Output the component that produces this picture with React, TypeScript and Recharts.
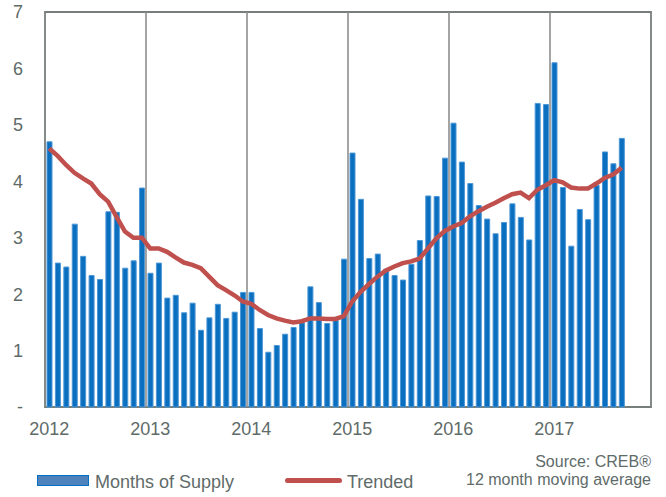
import React from 'react';
import {
  ComposedChart,
  Bar,
  Line,
  XAxis,
  YAxis,
  ReferenceLine,
  ReferenceArea,
} from 'recharts';

// Monthly values, Jan 2012 .. Sep 2017
const yearLabels = ['2012', '2013', '2014', '2015', '2016', '2017'];

const monthsOfSupply = [
  4.70, 2.55, 2.48, 3.24, 2.67, 2.33, 2.26, 3.46, 3.45, 2.46, 2.59, 3.88,
  2.37, 2.55, 1.93, 1.98, 1.67, 1.84, 1.36, 1.58, 1.82, 1.57, 1.68, 2.03,
  2.03, 1.39, 0.97, 1.09, 1.29, 1.41, 1.49, 2.13, 1.85, 1.48, 1.54, 2.62,
  4.50, 3.68, 2.63, 2.71, 2.44, 2.33, 2.25, 2.53, 2.95, 3.74, 3.73, 4.41,
  5.03, 4.34, 3.96, 3.57, 3.33, 3.07, 3.27, 3.60, 3.36, 2.96, 5.38, 5.36,
  6.10, 3.89, 2.85, 3.50, 3.32, 3.93, 4.52, 4.31, 4.76,
];

const trended = [
  4.58, 4.45, 4.29, 4.15, 4.05, 3.96, 3.77, 3.64, 3.37, 3.11, 3.00, 3.00,
  2.81, 2.81, 2.75, 2.65, 2.56, 2.52, 2.46, 2.31, 2.16, 2.07, 1.98, 1.87,
  1.83, 1.72, 1.63, 1.57, 1.53, 1.50, 1.52, 1.57, 1.57, 1.56, 1.56, 1.61,
  1.87, 2.04, 2.18, 2.31, 2.42, 2.49, 2.55, 2.58, 2.63, 2.81, 2.99, 3.12,
  3.20, 3.26, 3.38, 3.47, 3.55, 3.62, 3.70, 3.77, 3.80, 3.70, 3.85, 3.93,
  4.02, 3.98, 3.89, 3.87, 3.87, 3.96, 4.06, 4.12, 4.24,
];

const yTicks = [0, 1, 2, 3, 4, 5, 6, 7];

const data = monthsOfSupply.map((v, i) => ({
  x: i + 0.5,
  supply: v,
  trend: trended[i],
}));

const yearTicks = yearLabels.map((_, i) => i * 12 + 0.5);
const yearLines = yearLabels.slice(1).map((_, i) => (i + 1) * 12);

const textColor = '#606b69';
const font = '"Liberation Sans", Arial, sans-serif';

export default function App() {
  return (
    <div
      style={{
        position: 'absolute',
        left: 0,
        top: 0,
        width: 666,
        height: 497,
        background: '#fff',
        fontFamily: font,
      }}
    >
      <ComposedChart
        width={666}
        height={497}
        data={data}
        margin={{ top: 12, right: 15, bottom: 60, left: 5 }}
      >
        <XAxis
          dataKey="x"
          type="number"
          domain={[0, 72]}
          ticks={yearTicks}
          tickFormatter={(v: number) => yearLabels[Math.floor(v / 12)]}
          height={30}
          axisLine={false}
          tickLine={false}
          tickSize={0}
          tickMargin={15}
          tick={{ fill: textColor, fontSize: 18, fontFamily: font }}
          allowDataOverflow
        />
        <YAxis
          domain={[0, 7]}
          ticks={yTicks}
          width={40}
          axisLine={false}
          tickLine={false}
          tickSize={0}
          tickMargin={22}
          tickFormatter={(v: number) => (v === 0 ? '-' : String(v))}
          tick={{ fill: textColor, fontSize: 18, fontFamily: font }}
        />
        {yearLines.map((x) => (
          <ReferenceLine key={x} x={x} stroke="#8e8e8e" strokeWidth={1.6} />
        ))}
        <Bar
          dataKey="supply"
          barSize={5}
          fill="#0a6fbf"
          stroke="#4d97d6"
          strokeWidth={1}
          isAnimationActive={false}
        />
        <Line
          dataKey="trend"
          type="linear"
          stroke="#c0504d"
          strokeWidth={4.5}
          dot={false}
          isAnimationActive={false}
        />
        <ReferenceArea
          x1={0}
          x2={72}
          y1={0}
          y2={7}
          fill="none"
          stroke="#777f7d"
          strokeWidth={1.8}
          ifOverflow="visible"
        />
      </ComposedChart>

      <div
        style={{
          position: 'absolute',
          left: 37,
          top: 475,
          width: 52,
          height: 11,
          boxSizing: 'border-box',
          background: '#4f81bd',
          border: '1px solid #0070c0',
        }}
      />
      <div
        style={{
          position: 'absolute',
          left: 95,
          top: 472,
          fontSize: 18,
          lineHeight: '20px',
          color: textColor,
          whiteSpace: 'nowrap',
        }}
      >
        Months of Supply
      </div>
      <div
        style={{
          position: 'absolute',
          left: 285,
          top: 478,
          width: 57,
          height: 5,
          borderRadius: 2.5,
          background: '#c0504d',
        }}
      />
      <div
        style={{
          position: 'absolute',
          left: 347,
          top: 472,
          fontSize: 18,
          lineHeight: '20px',
          color: textColor,
          whiteSpace: 'nowrap',
        }}
      >
        Trended
      </div>
      <div
        style={{
          position: 'absolute',
          right: 15,
          top: 453,
          fontSize: 16,
          lineHeight: '18px',
          color: textColor,
          textAlign: 'right',
          whiteSpace: 'nowrap',
        }}
      >
        Source: CREB®
        <br />
        12 month moving average
      </div>
    </div>
  );
}
